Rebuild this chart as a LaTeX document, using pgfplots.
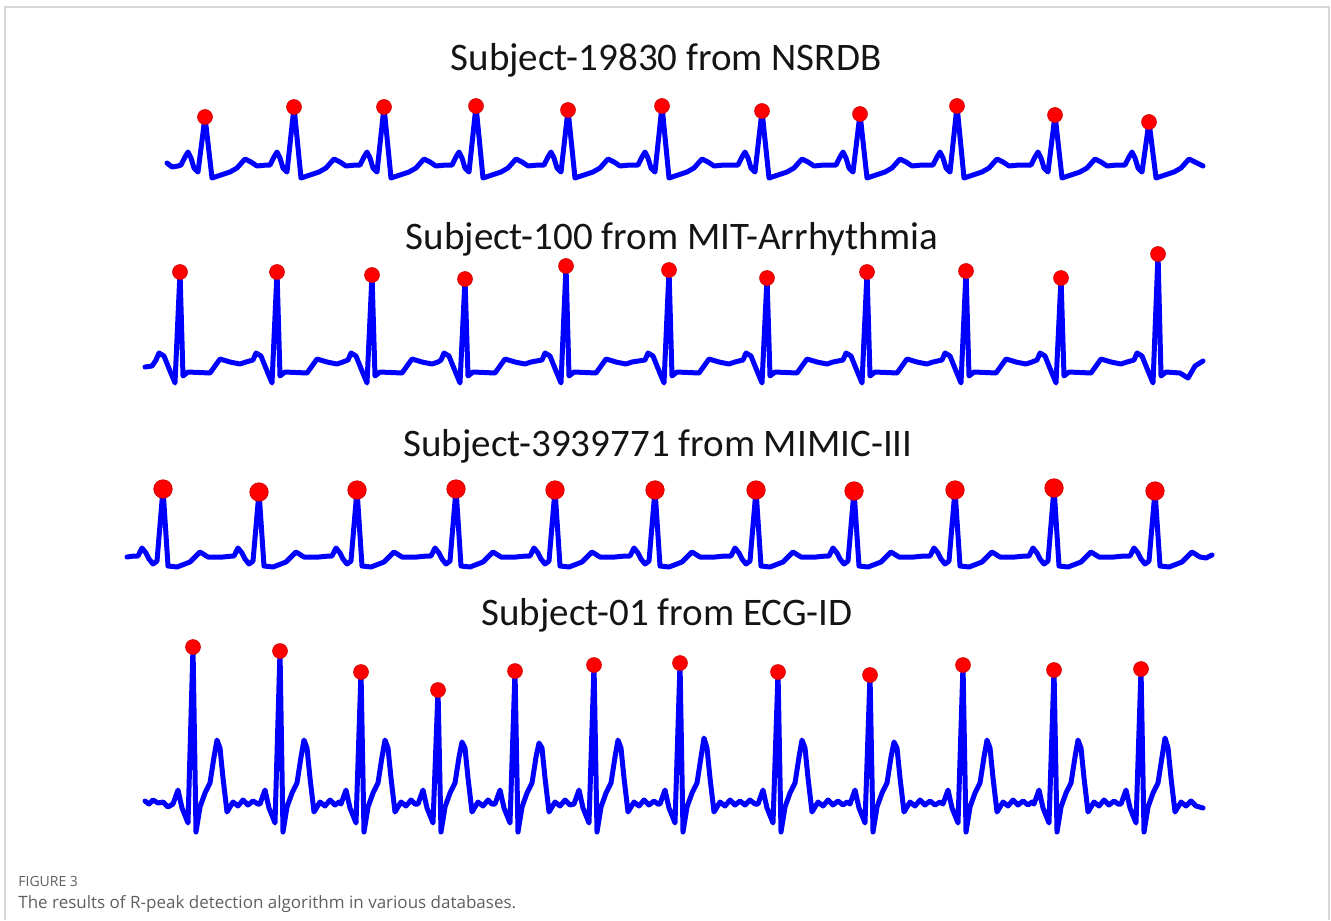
\documentclass[border=0pt]{standalone}
\usepackage{pgfplots}
\pgfplotsset{compat=1.18}
\usepackage{fontspec}
\setmainfont{Carlito}
\newfontfamily\capfont{Open Sans}
\definecolor{ecgblue}{RGB}{0,0,255}
\definecolor{peakred}{RGB}{255,0,0}
\definecolor{framegray}{RGB}{215,215,215}
\definecolor{capgray}{RGB}{95,95,95}
\begin{document}
\begin{tikzpicture}
\useasboundingbox (0,0) rectangle (665.5pt,460pt);
\begin{axis}[
  at={(0,0)}, anchor=south west,
  width=665.5pt, height=460pt, scale only axis,
  xmin=0, xmax=1331, ymin=0, ymax=920, y dir=reverse,
  hide axis, clip=false,
  ecg/.style={ecgblue, line width=2.5pt, line join=round, line cap=round, no markers},
  peaks/.style={only marks, mark=*, mark size=3.7pt, mark options={fill=peakred, draw=peakred!85!black, line width=0.4pt}},
]
% frame
\draw[framegray, line width=1pt] (axis cs:5,920) -- (axis cs:5,7) -- (axis cs:1329,7) -- (axis cs:1329,920);

% titles
\node[anchor=base, font=\fontsize{19.5}{23}\selectfont, text=black!92] at (axis cs:666,71) {Subject-19830 from NSRDB};
\node[anchor=base, font=\fontsize{19.5}{23}\selectfont, text=black!92] at (axis cs:672,249) {Subject-100 from MIT-Arrhythmia};
\node[anchor=base, font=\fontsize{19.5}{23}\selectfont, text=black!92] at (axis cs:658,456) {Subject-3939771 from MIMIC-III};
\node[anchor=base, font=\fontsize{19.5}{23}\selectfont, text=black!92] at (axis cs:667,625) {Subject-01 from ECG-ID};

% caption
\node[anchor=base west, font=\capfont\fontsize{7}{8}\selectfont, text=capgray, inner sep=0pt] at (axis cs:18,886) {FIGURE 3};
\node[anchor=base west, font=\capfont\fontsize{8.5}{10}\selectfont, text=capgray, inner sep=0pt] at (axis cs:18,908) {The results of R-peak detection algorithm in various databases.};

% ---------- Panel 1: NSRDB ----------
\addplot[peaks] coordinates {(205,117) (294,107) (384,107) (476,106) (568,110) (662,106) (762,111) (860,114) (957,106) (1055,115) (1149,122)};
\addplot[ecg] coordinates {
(167,163) (172,167) (178,166)
(181,165) (185,157) (188,152) (191,158) (194,168) (198,172) (205,117) (212,178) (218,176) (230,172) (237,168) (245,159) (251,162) (257,166) (267,165)
(270,165) (274,157) (277,152) (280,158) (283,168) (287,172) (294,107) (301,178) (307,176) (319,172) (326,168) (334,159) (340,162) (346,166) (356,165)
(360,165) (364,157) (367,152) (370,158) (373,168) (377,172) (384,107) (391,178) (397,176) (409,172) (416,168) (424,159) (430,162) (436,166) (446,165)
(452,165) (456,157) (459,152) (462,158) (465,168) (469,172) (476,106) (483,178) (489,176) (501,172) (508,168) (516,159) (522,162) (528,166) (538,165)
(544,165) (548,157) (551,152) (554,158) (557,168) (561,172) (568,110) (575,178) (581,176) (593,172) (600,168) (608,159) (614,162) (620,166) (630,165)
(638,165) (642,157) (645,152) (648,158) (651,168) (655,172) (662,106) (669,178) (675,176) (687,172) (694,168) (702,159) (708,162) (714,166) (724,165)
(738,165) (742,157) (745,152) (748,158) (751,168) (755,172) (762,111) (769,178) (775,176) (787,172) (794,168) (802,159) (808,162) (814,166) (824,165)
(836,165) (840,157) (843,152) (846,158) (849,168) (853,172) (860,114) (867,178) (873,176) (885,172) (892,168) (900,159) (906,162) (912,166) (922,165)
(933,165) (937,157) (940,152) (943,158) (946,168) (950,172) (957,106) (964,178) (970,176) (982,172) (989,168) (997,159) (1003,162) (1009,166) (1019,165)
(1031,165) (1035,157) (1038,152) (1041,158) (1044,168) (1048,172) (1055,115) (1062,178) (1068,176) (1080,172) (1087,168) (1095,159) (1101,162) (1107,166) (1117,165)
(1125,165) (1129,157) (1132,152) (1135,158) (1138,168) (1142,172) (1149,122) (1156,178) (1162,176) (1174,172) (1181,168) (1189,159) (1195,162) (1203,166)
};

% ---------- Panel 2: MIT-Arrhythmia ----------
\addplot[peaks] coordinates {(180,272) (277,272) (372,275) (465,279) (566,266) (669,270) (767,278) (867,272) (966,271) (1061,278) (1158,254)};
\addplot[ecg] coordinates {
(145,367) (152,366)
(156,360) (159,353) (164,356) (168,366) (175,383) (180,272) (183,376) (188,372) (210,373) (215,366) (220,359) (230,362) (240,364) (246,362)
(253,360) (256,353) (261,356) (265,366) (272,383) (277,272) (280,376) (285,372) (307,373) (312,366) (317,359) (327,362) (337,364) (343,362)
(348,360) (351,353) (356,356) (360,366) (367,383) (372,275) (375,376) (380,372) (402,373) (407,366) (412,359) (422,362) (432,364) (438,362)
(441,360) (444,353) (449,356) (453,366) (460,383) (465,279) (468,376) (473,372) (495,373) (500,366) (505,359) (515,362) (525,364) (531,362)
(542,360) (545,353) (550,356) (554,366) (561,383) (566,266) (569,376) (574,372) (596,373) (601,366) (606,359) (616,362) (626,364) (632,362)
(645,360) (648,353) (653,356) (657,366) (664,383) (669,270) (672,376) (677,372) (699,373) (704,366) (709,359) (719,362) (729,364) (735,362)
(743,360) (746,353) (751,356) (755,366) (762,383) (767,278) (770,376) (775,372) (797,373) (802,366) (807,359) (817,362) (827,364) (833,362)
(843,360) (846,353) (851,356) (855,366) (862,383) (867,272) (870,376) (875,372) (897,373) (902,366) (907,359) (917,362) (927,364) (933,362)
(942,360) (945,353) (950,356) (954,366) (961,383) (966,271) (969,376) (974,372) (996,373) (1001,366) (1006,359) (1016,362) (1026,364) (1032,362)
(1037,360) (1040,353) (1045,356) (1049,366) (1056,383) (1061,278) (1064,376) (1069,372) (1091,373) (1096,366) (1101,359) (1111,362) (1121,364) (1127,362)
(1134,360) (1137,353) (1142,356) (1146,366) (1153,383) (1158,254) (1161,376) (1166,372) (1180,373) (1188,378) (1195,366) (1203,361)
};

% ---------- Panel 3: MIMIC-III ----------
\addplot[peaks, mark size=4.6pt] coordinates {(163,489) (259,492) (357,490) (456,489) (555,490) (655,490) (756,490) (854,491) (955,490) (1054,488) (1155,491)};
\addplot[ecg] coordinates {
(127,557) (134,556)
(138,556) (142,548) (146,553) (149,559) (153,564) (157,561) (163,489) (168,566) (177,567) (190,562) (200,552) (208,557) (223,557) (233,556)
(234,556) (238,548) (242,553) (245,559) (249,564) (253,561) (259,492) (264,566) (273,567) (286,562) (296,552) (304,557) (319,557) (329,556)
(332,556) (336,548) (340,553) (343,559) (347,564) (351,561) (357,490) (362,566) (371,567) (384,562) (394,552) (402,557) (417,557) (427,556)
(431,556) (435,548) (439,553) (442,559) (446,564) (450,561) (456,489) (461,566) (470,567) (483,562) (493,552) (501,557) (516,557) (526,556)
(530,556) (534,548) (538,553) (541,559) (545,564) (549,561) (555,490) (560,566) (569,567) (582,562) (592,552) (600,557) (615,557) (625,556)
(630,556) (634,548) (638,553) (641,559) (645,564) (649,561) (655,490) (660,566) (669,567) (682,562) (692,552) (700,557) (715,557) (725,556)
(731,556) (735,548) (739,553) (742,559) (746,564) (750,561) (756,490) (761,566) (770,567) (783,562) (793,552) (801,557) (816,557) (826,556)
(829,556) (833,548) (837,553) (840,559) (844,564) (848,561) (854,491) (859,566) (868,567) (881,562) (891,552) (899,557) (914,557) (924,556)
(930,556) (934,548) (938,553) (941,559) (945,564) (949,561) (955,490) (960,566) (969,567) (982,562) (992,552) (1000,557) (1015,557) (1025,556)
(1029,556) (1033,548) (1037,553) (1040,559) (1044,564) (1048,561) (1054,488) (1059,566) (1068,567) (1081,562) (1091,552) (1099,557) (1114,557) (1124,556)
(1130,556) (1134,548) (1138,553) (1141,559) (1145,564) (1149,561) (1155,491) (1160,566) (1169,567) (1182,562) (1192,552) (1200,557) (1206,558) (1212,555)
};

% ---------- Panel 4: ECG-ID ----------
\addplot[peaks] coordinates {(193,647) (280,651) (361,672) (438,690) (515,671) (594,665) (680,663) (778,672) (870,675) (963,665) (1054,670) (1141,669)};
\addplot[ecg] coordinates {
(145,801) (149,804) (153,800) (158,803) (163,802) (168,807)
(173,804) (178,790) (182,808) (188,823) (193,647) (196,832) (200,807) (205,793) (210,783) (214,757) (217,740) (220,748) (223,778) (227,812) (233,802) (238,806) (243,800) (248,805) (253,801) (258,804)
(260,804) (265,790) (269,808) (275,823) (280,651) (283,832) (287,807) (292,793) (297,783) (301,757) (304,740) (307,748) (310,778) (314,812) (320,802) (325,806) (330,800) (335,805) (339,802)
(341,804) (346,790) (350,808) (356,823) (361,672) (364,832) (368,807) (373,793) (378,783) (382,757) (385,740) (388,748) (391,778) (395,812) (401,802) (406,806) (411,800) (415,804)
(418,804) (423,790) (427,808) (433,823) (438,690) (441,832) (445,807) (450,793) (455,783) (459,757) (462,742) (465,748) (468,778) (472,812) (478,802) (483,806) (488,800) (492,804)
(495,804) (500,790) (504,808) (510,823) (515,671) (518,832) (522,807) (527,793) (532,783) (536,757) (539,743) (542,748) (545,778) (549,812) (555,802) (560,806) (565,800) (570,805)
(574,804) (579,790) (583,808) (589,823) (594,665) (597,832) (601,807) (606,793) (611,783) (615,757) (618,740) (621,748) (624,778) (628,812) (634,802) (639,806) (644,800) (649,805) (654,801) (658,804)
(660,804) (665,790) (669,808) (675,823) (680,663) (683,832) (687,807) (692,793) (697,783) (701,757) (704,738) (707,748) (710,778) (714,812) (720,802) (725,806) (730,800) (735,805) (740,801) (745,805) (750,800) (755,804)
(758,804) (763,790) (767,808) (773,823) (778,672) (781,832) (785,807) (790,793) (795,783) (799,757) (802,740) (805,748) (808,778) (812,812) (818,802) (823,806) (828,800) (833,805) (838,801) (843,805) (847,802)
(850,804) (855,790) (859,808) (865,823) (870,675) (873,832) (877,807) (882,793) (887,783) (891,757) (894,742) (897,748) (900,778) (904,812) (910,802) (915,806) (920,800) (925,805) (930,801) (935,805) (940,802)
(943,804) (948,790) (952,808) (958,823) (963,665) (966,832) (970,807) (975,793) (980,783) (984,757) (987,740) (990,748) (993,778) (997,812) (1003,802) (1008,806) (1013,800) (1018,805) (1023,801) (1028,805) (1032,802)
(1034,804) (1039,790) (1043,808) (1049,823) (1054,670) (1057,832) (1061,807) (1066,793) (1071,783) (1075,757) (1078,740) (1081,748) (1084,778) (1088,812) (1094,802) (1099,806) (1104,800) (1109,805) (1114,801) (1118,804)
(1121,804) (1126,790) (1130,808) (1136,823) (1141,669) (1144,832) (1148,807) (1153,793) (1158,783) (1162,757) (1165,738) (1168,748) (1171,778) (1175,812) (1181,802) (1186,806) (1191,801) (1196,806) (1203,808)
};
\end{axis}
\end{tikzpicture}
\end{document}
